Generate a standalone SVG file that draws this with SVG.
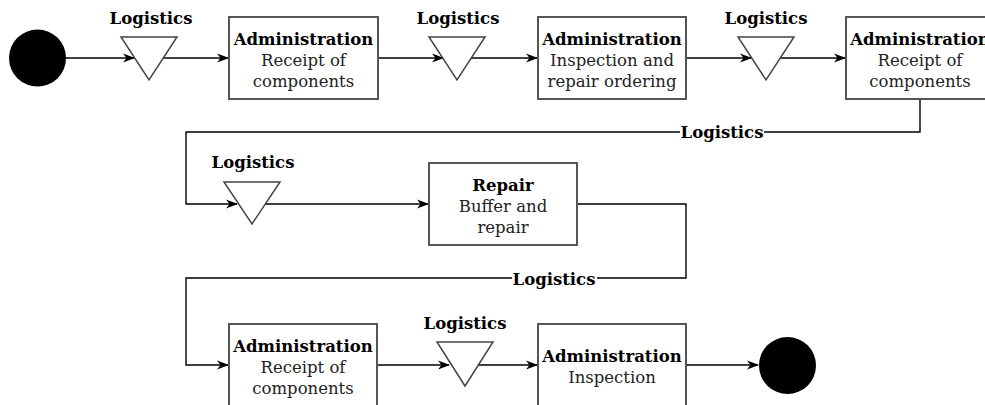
<svg xmlns="http://www.w3.org/2000/svg" width="985" height="405" viewBox="0 0 985 405">
  <defs>
    <marker id="arrow" viewBox="0 0 12 10" refX="11" refY="5" markerWidth="12" markerHeight="10" markerUnits="userSpaceOnUse" orient="auto">
      <path d="M0,0.5 L12,5 L0,9.5 L3.5,5 Z" fill="#000"/>
    </marker>
    <style>
      .box { fill: #fff; stroke: #555; stroke-width: 2; }
      .tri { fill: #fff; stroke: #444; stroke-width: 1.5; }
      .dot { fill: #000; }
      .edge { fill: none; stroke: #000; stroke-width: 1.4; }
      .arr { marker-end: url(#arrow); }
      text { font-family: "DejaVu Serif", "Liberation Serif", serif; font-size: 16.5px; fill: #222; text-anchor: middle; }
      .b { font-weight: bold; fill: #000; }
      .lbl { font-weight: bold; fill: #000; }
      .bg { fill: #fff; }
    </style>
  </defs>

  <!-- connectors -->
  <g id="connectors">
    <path class="edge arr" d="M66,58 H134"/>
    <path class="edge arr" d="M163,58 H228"/>
    <path class="edge arr" d="M378,58 H443"/>
    <path class="edge arr" d="M471,58 H537"/>
    <path class="edge arr" d="M686,58 H751"/>
    <path class="edge arr" d="M780,58 H845"/>
    <path class="edge arr" d="M920,99 V132 H186 V204 H237"/>
    <path class="edge arr" d="M265,204 H428"/>
    <path class="edge arr" d="M577,204 H686 V278 H186 V365 H228"/>
    <path class="edge arr" d="M377,365 H449"/>
    <path class="edge arr" d="M479,365 H537"/>
    <path class="edge arr" d="M686,365 H758"/>
    <!-- labels sitting on the return lines -->
    <rect class="bg" x="680" y="123" width="84" height="18"/>
    <text class="lbl" x="722" y="138">Logistics</text>
    <rect class="bg" x="512" y="269" width="85" height="18"/>
    <text class="lbl" x="554" y="285">Logistics</text>
  </g>

  <!-- start / end -->
  <g id="start"><circle class="dot" cx="37.5" cy="58" r="28.5"/></g>
  <g id="end"><circle class="dot" cx="787.5" cy="365.5" r="28.5"/></g>

  <!-- logistics buffers -->
  <g id="logistics1">
    <text class="lbl" x="151" y="24">Logistics</text>
    <polygon class="tri" points="121,37 177,37 149,80"/>
  </g>
  <g id="logistics2">
    <text class="lbl" x="458" y="24">Logistics</text>
    <polygon class="tri" points="429,37 485,37 457,80"/>
  </g>
  <g id="logistics3">
    <text class="lbl" x="766" y="24">Logistics</text>
    <polygon class="tri" points="738,37 794,37 766,80"/>
  </g>
  <g id="logistics4">
    <text class="lbl" x="253" y="168">Logistics</text>
    <polygon class="tri" points="224,182 280,182 252,224"/>
  </g>
  <g id="logistics5">
    <text class="lbl" x="465" y="329">Logistics</text>
    <polygon class="tri" points="437,342 493,342 465,386"/>
  </g>

  <!-- process steps -->
  <g id="admin-receipt-1">
    <rect class="box" x="229" y="17" width="149" height="82"/>
    <text class="b" x="303.5" y="45">Administration</text>
    <text x="303.5" y="66">Receipt of</text>
    <text x="303.5" y="87">components</text>
  </g>
  <g id="admin-inspection-ordering">
    <rect class="box" x="538" y="17" width="148" height="82"/>
    <text class="b" x="612" y="45">Administration</text>
    <text x="612" y="66">Inspection and</text>
    <text x="612" y="87">repair ordering</text>
  </g>
  <g id="admin-receipt-2">
    <rect class="box" x="846" y="17" width="148" height="82"/>
    <text class="b" x="920" y="45">Administration</text>
    <text x="920" y="66">Receipt of</text>
    <text x="920" y="87">components</text>
  </g>
  <g id="repair">
    <rect class="box" x="429" y="163" width="148" height="82"/>
    <text class="b" x="503" y="191">Repair</text>
    <text x="503" y="212">Buffer and</text>
    <text x="503" y="233">repair</text>
  </g>
  <g id="admin-receipt-3">
    <rect class="box" x="229" y="324" width="148" height="84"/>
    <text class="b" x="303" y="352">Administration</text>
    <text x="303" y="373">Receipt of</text>
    <text x="303" y="394">components</text>
  </g>
  <g id="admin-inspection">
    <rect class="box" x="538" y="324" width="148" height="84"/>
    <text class="b" x="612" y="362">Administration</text>
    <text x="612" y="383">Inspection</text>
  </g>
</svg>
